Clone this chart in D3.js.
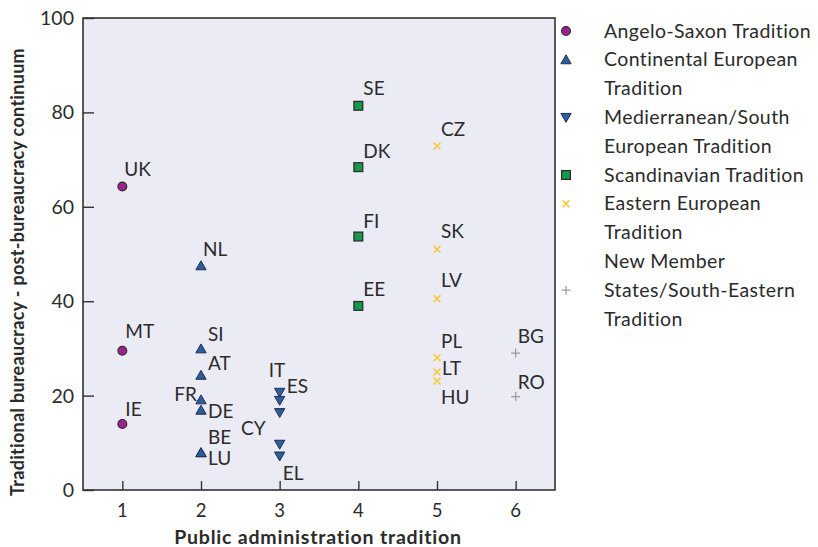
<!DOCTYPE html>
<html>
<head>
<meta charset="utf-8">
<script src="https://cdn.jsdelivr.net/npm/d3@7"></script>
<style>
  html, body { margin: 0; padding: 0; background: #fff; }
  svg text { font-family: Lato, "Open Sans", sans-serif; fill: #2b2b2b; }
</style>
</head>
<body>
<svg id="chart" width="818" height="547"></svg>
<script>
// ---- data ----
const groupNames = [
  "Angelo-Saxon Tradition",
  "Continental European Tradition",
  "Medierranean/South European Tradition",
  "Scandinavian Tradition",
  "Eastern European Tradition",
  "New Member States/South-Eastern Tradition"
];
const legendLines = [
  ["Angelo-Saxon Tradition"],
  ["Continental European", "Tradition"],
  ["Medierranean/South", "European Tradition"],
  ["Scandinavian Tradition"],
  ["Eastern European", "Tradition"],
  ["New Member", "States/South-Eastern", "Tradition"]
];
const groupTradition = [1, 2, 3, 4, 5, 6];
const anglo = ["UK", "MT", "IE"];
const angloValues = [64.3, 29.5, 14.0];
const continental = ["NL", "SI", "AT", "FR", "DE", "BE", "LU"];
const continentalValues = [47.5, 29.9, 24.3, 19.1, 16.9, 7.9, 7.9];
const mediterranean = ["IT", "ES", "PT", "CY", "EL"];
const mediterraneanValues = [20.7, 19.0, 16.4, 9.7, 7.2];
const scandinavian = ["SE", "DK", "FI", "EE"];
const scandinavianValues = [81.4, 68.4, 53.7, 39.0];
const eastern = ["CZ", "SK", "LV", "PL", "LT", "HU"];
const easternValues = [72.9, 51.0, 40.5, 28.0, 25.0, 23.1];
const southEastern = ["BG", "RO"];
const southEasternValues = [29.0, 19.8];
const xTicks = [1, 2, 3, 4, 5, 6];
const yTicks = [0, 20, 40, 60, 80, 100];

const groupCountries = [anglo, continental, mediterranean, scandinavian, eastern, southEastern];
const groupValues = [angloValues, continentalValues, mediterraneanValues, scandinavianValues, easternValues, southEasternValues];

// ---- layout / style ----
const M = { left: 83, right: 555, top: 18, bottom: 490 };
const styles = [
  { type: "circle", fill: "#a0208e", stroke: "#2d2d2d" },
  { type: "up", fill: "#2c5d9d", stroke: "#1f2f4d" },
  { type: "down", fill: "#2c5d9d", stroke: "#1f2f4d" },
  { type: "square", fill: "#14994a", stroke: "#2d2d2d" },
  { type: "x", fill: "none", stroke: "#f6c622" },
  { type: "plus", fill: "none", stroke: "#9a9a9a" }
];
// label offsets relative to marker: [dx, dy, anchor]
const labelPos = {
  UK: [2, -11, "start"], MT: [3, -13, "start"], IE: [3, -8, "start"],
  NL: [2, -10, "start"], SI: [7, -8, "start"], AT: [7, -5, "start"],
  FR: [-4, 1, "end"], DE: [7, 8, "start"], BE: [7, -9, "start"], LU: [7, 12, "start"],
  IT: [-11, -15, "start"], ES: [7, -7, "start"], PT: null, CY: [-14, -9, "end"], EL: [3, 24, "start"],
  SE: [5, -11, "start"], DK: [5, -9, "start"], FI: [5, -9, "start"], EE: [5, -10, "start"],
  CZ: [4, -10, "start"], SK: [4, -11, "start"], LV: [4, -12, "start"],
  PL: [4, -10, "start"], LT: [5, 3, "start"], HU: [4, 23, "start"],
  BG: [2, -10, "start"], RO: [2, -8, "start"]
};

const svg = d3.select("#chart");
const x = d3.scaleLinear().domain([0.5, 6.5]).range([M.left, M.right]);
const y = d3.scaleLinear().domain([0, 100]).range([M.bottom, M.top]);

// plot background
svg.append("rect")
  .attr("x", M.left).attr("y", M.top)
  .attr("width", M.right - M.left).attr("height", M.bottom - M.top)
  .attr("fill", "#ebebf5");

// axes
const xAxis = d3.axisTop(x).tickValues(xTicks).tickSize(9).tickFormat("");
svg.append("g").attr("transform", `translate(0,${M.bottom})`).call(xAxis)
  .call(g => g.select(".domain").remove())
  .call(g => g.selectAll("line").attr("stroke", "#333").attr("stroke-width", 1.4));
svg.append("g").selectAll("text").data(xTicks).join("text")
  .attr("x", d => x(d)).attr("y", 517)
  .attr("text-anchor", "middle").attr("font-size", 18.5).text(d => d);

const yAxis = d3.axisRight(y).tickValues(yTicks).tickSize(11).tickFormat("");
svg.append("g").attr("transform", `translate(${M.left},0)`).call(yAxis)
  .call(g => g.select(".domain").remove())
  .call(g => g.selectAll("line").attr("stroke", "#333").attr("stroke-width", 1.4));
svg.append("g").selectAll("text").data(yTicks).join("text")
  .attr("x", 74).attr("y", d => y(d) + 7)
  .attr("text-anchor", "end").attr("font-size", 19.5).text(d => d);

// frame
svg.append("rect")
  .attr("x", M.left).attr("y", M.top)
  .attr("width", M.right - M.left).attr("height", M.bottom - M.top)
  .attr("fill", "none").attr("stroke", "#333").attr("stroke-width", 1.6);

// axis titles
svg.append("text").attr("x", (M.left + M.right) / 2 - 1).attr("y", 544)
  .attr("text-anchor", "middle").attr("font-size", 19.5).attr("font-weight", "bold")
  .attr("letter-spacing", 0.8)
  .text("Public administration tradition");
svg.append("text").attr("transform", `translate(24,${(M.top + M.bottom) / 2 + 18}) rotate(-90)`)
  .attr("text-anchor", "middle").attr("font-size", 18).attr("font-weight", "bold")
  .attr("letter-spacing", 0.3)
  .text("Traditional bureaucracy - post-bureaucracy continuum");

// marker drawing
function drawMarker(g, st, cx, cy) {
  if (st.type === "circle") {
    g.append("circle").attr("cx", cx).attr("cy", cy).attr("r", 4.4)
      .attr("fill", st.fill).attr("stroke", st.stroke).attr("stroke-width", 1.2);
  } else if (st.type === "up" || st.type === "down") {
    const p = d3.symbol(d3.symbolTriangle, 46)();
    g.append("path").attr("d", p)
      .attr("transform", `translate(${cx},${cy + (st.type === "up" ? 1 : -1)}) rotate(${st.type === "up" ? 0 : 180})`)
      .attr("fill", st.fill).attr("stroke", st.stroke).attr("stroke-width", 1);
  } else if (st.type === "square") {
    g.append("rect").attr("x", cx - 4.4).attr("y", cy - 4.4).attr("width", 8.8).attr("height", 8.8)
      .attr("fill", st.fill).attr("stroke", st.stroke).attr("stroke-width", 1.3);
  } else if (st.type === "x") {
    const s = 3.5;
    g.append("path").attr("d", `M${cx - s},${cy - s}L${cx + s},${cy + s}M${cx - s},${cy + s}L${cx + s},${cy - s}`)
      .attr("stroke", st.stroke).attr("stroke-width", 1.4).attr("fill", "none");
  } else {
    const s = 4.5;
    g.append("path").attr("d", `M${cx - s},${cy}L${cx + s},${cy}M${cx},${cy - s}L${cx},${cy + s}`)
      .attr("stroke", st.stroke).attr("stroke-width", 1.2).attr("fill", "none");
  }
}

// points and labels
const pts = svg.append("g");
const lbls = svg.append("g");
groupCountries.forEach((countries, gi) => {
  countries.forEach((c, i) => {
    const cx = x(groupTradition[gi]);
    const cy = y(groupValues[gi][i]);
    drawMarker(pts, styles[gi], cx, cy);
    const lp = labelPos[c];
    if (lp) {
      lbls.append("text").attr("x", cx + lp[0]).attr("y", cy + lp[1])
        .attr("text-anchor", lp[2]).attr("font-size", 19).text(c);
    }
  });
});

// legend
const leg = svg.append("g");
const lineH = 28.8;
let row = 0;
legendLines.forEach((lines, gi) => {
  const symLine = lines.length === 3 ? 1 : 0;
  const cy = 31 + (row + symLine) * lineH;
  drawMarker(leg, styles[gi], 566, cy);
  lines.forEach((t, li) => {
    leg.append("text").attr("x", 604).attr("y", 31 + (row + li) * lineH + 6.5)
      .attr("font-size", 19.5).attr("letter-spacing", 0.4).text(t);
  });
  row += lines.length;
});
</script>
</body>
</html>
